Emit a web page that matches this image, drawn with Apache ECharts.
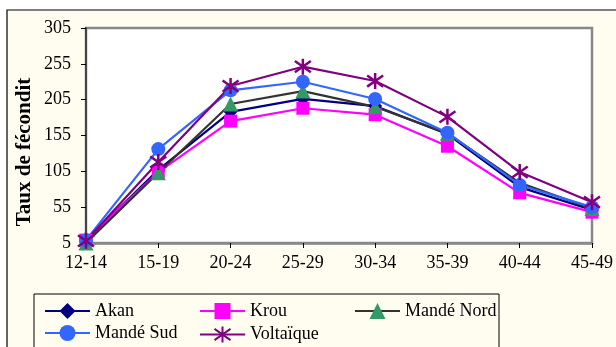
<!DOCTYPE html>
<html><head><meta charset="utf-8">
<script src="https://cdn.jsdelivr.net/npm/echarts@6/dist/echarts.min.js"></script>
<style>html,body{margin:0;padding:0;background:#fff;}#c{width:616px;height:347px;}</style>
</head><body><div id="c"></div>
<script>
const categories = ['12-14','15-19','20-24','25-29','30-34','35-39','40-44','45-49'];
const akan      = [8, 107, 188, 206, 196, 157, 83, 51];
const krou      = [9, 104, 175, 193, 184, 140, 75, 48];
const mandeNord = [5, 103, 199, 217, 195, 158, 89, 53];
const mandeSud  = [9, 136, 218, 230, 206, 159, 86, 55];
const voltaique = [8, 118, 224, 251, 231, 181, 104, 62];
const yTicks = {min: 5, max: 305, step: 50};
const yTitle = 'Taux de fécondit';

const FONT = 'Liberation Serif';
const star = 'path://M5,0L5,10M0.7,1.5L9.3,8.5M0.7,8.5L9.3,1.5';

function ser(name, data, color, symbol, size, symColor, extra) {
  return Object.assign({
    name, type: 'line', data, symbol, symbolSize: size, showSymbol: true,
    lineStyle: {color, width: 2.2},
    itemStyle: {color: symColor || color, borderColor: symColor || color, borderWidth: 0, opacity: 1},
    emphasis: {disabled: true}, animation: false
  }, extra || {});
}

const series = [
  ser('Akan', akan, '#000080', 'diamond', 14),
  ser('Krou', krou, '#FF00FF', 'rect', 13),
  ser('Mandé Nord', mandeNord, '#333333', 'triangle', 15, '#339966'),
  ser('Mandé Sud', mandeSud, '#3366FF', 'circle', 14),
  ser('Voltaïque', voltaique, '#800080', star, 16, null, {itemStyle: {color: 'none', borderColor: '#800080', borderWidth: 2.5}})
];

const legendPos = [
  [44, 302], [199, 302], [354, 302],
  [44, 324], [199, 324]
];
const legends = series.map((s, i) => ({
  data: [s.name], left: legendPos[i][0], top: legendPos[i][1],
  itemWidth: 45, itemHeight: 20, itemGap: 0, padding: 0,
  textStyle: {fontFamily: FONT, fontSize: 18, color: '#000', padding: [0,0,0,0]},
  selectedMode: false
}));

const chart = echarts.init(document.getElementById('c'), null, {renderer: 'canvas'});
chart.setOption({
  backgroundColor: '#fff',
  animation: false,
  graphic: [
    {type: 'rect', z: -10, silent: true, shape: {x: 7, y: 10, width: 700, height: 400},
     style: {fill: '#FFFDF0', stroke: '#000', lineWidth: 1.2}},
    {type: 'rect', z: -5, silent: true, shape: {x: 34, y: 294, width: 465, height: 60},
     style: {fill: '#FFFDF0', stroke: '#000', lineWidth: 1}},
    {type: 'text', silent: true, x: 25, y: 152, rotation: Math.PI / 2,
     style: {text: yTitle, font: 'bold 21px "Liberation Serif"', fill: '#000', align: 'center', verticalAlign: 'middle'}}
  ],
  legend: legends,
  grid: {left: 86, top: 28, right: 23, bottom: 104, show: true, backgroundColor: '#fff',
         borderColor: '#888', borderWidth: 2.5},
  xAxis: {
    type: 'category', data: categories, boundaryGap: false,
    axisLine: {show: true, lineStyle: {color: '#888', width: 2.5}},
    axisTick: {show: true, length: 5, lineStyle: {color: '#000', width: 1}},
    axisLabel: {fontFamily: FONT, fontSize: 18, color: '#000', margin: 11},
    splitLine: {show: false}
  },
  yAxis: {
    type: 'value', min: yTicks.min, max: yTicks.max, interval: yTicks.step,
    axisLine: {show: true, lineStyle: {color: '#444', width: 2}},
    axisTick: {show: true, length: 5, lineStyle: {color: '#000', width: 1}},
    axisLabel: {fontFamily: FONT, fontSize: 18, color: '#000', margin: 15},
    splitLine: {show: false}
  },
  series
});
</script></body></html>
